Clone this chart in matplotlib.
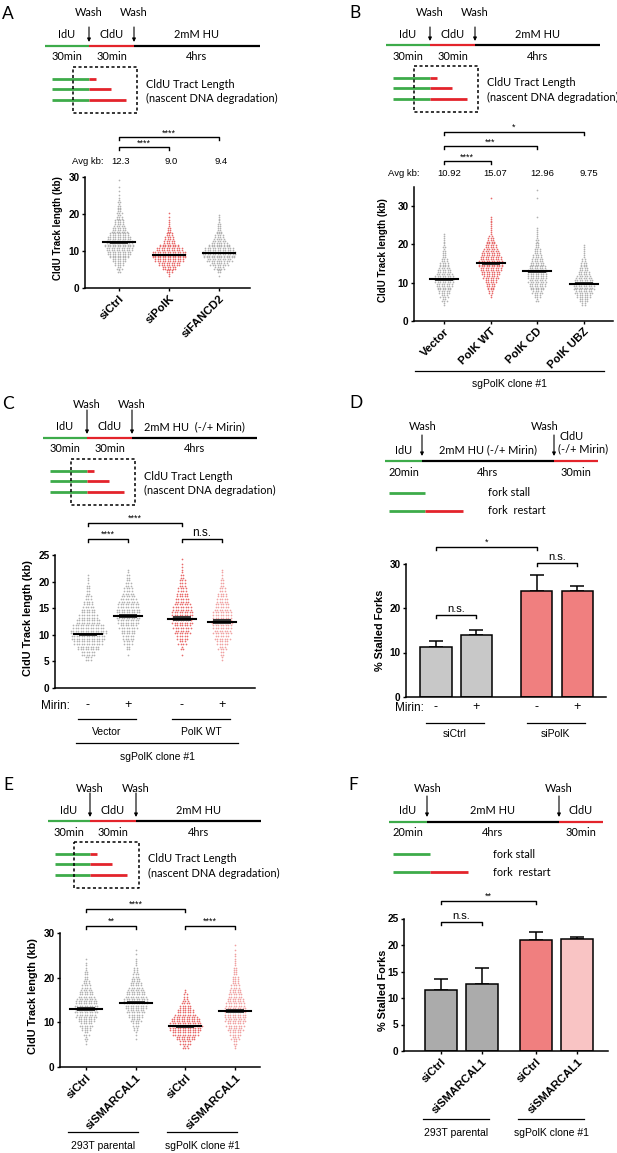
import matplotlib

matplotlib.use("Agg")
import matplotlib.pyplot as plt
from matplotlib.patches import Rectangle

W, H = 617, 1153
plt.rcParams["font.family"] = ["Liberation Sans", "DejaVu Sans"]

GREEN = "#3dab4a"
RED = "#e3242b"
GRAY_DOT = "#b2b2b2"
RED_DOT = "#e86a6a"
PINK_DOT = "#f0a2a2"

# ---------------- data ----------------
# A: CldU track length, dot histograms (counts per 1-kb bin from bin start)
A_labels = ["siCtrl", "siPolK", "siFANCD2"]
A_avg = [12.3, 9.0, 9.4]
A_sem = [0.45, 0.3, 0.3]
A_start = [4, 3, 3]
A_siCtrl = [3, 5, 8, 12, 16, 20, 22, 24, 22, 20, 16, 13, 11, 8, 7, 5, 5, 4, 3, 3, 1, 1, 1, 1, 0, 1]
A_siPolK = [2, 6, 12, 18, 24, 28, 28, 22, 16, 10, 8, 6, 4, 3, 2, 1, 1, 1]
A_siFANCD2 = [1, 4, 9, 15, 21, 26, 28, 24, 18, 13, 9, 7, 5, 4, 3, 2, 2]

B_labels = ["Vector", "PolK WT", "PolK CD", "PolK UBZ"]
B_avg = [10.92, 15.07, 12.96, 9.75]
B_sem = [0.4, 0.45, 0.45, 0.35]
B_start = [4, 6, 5, 4]
B_vector = [2, 5, 7, 10, 12, 14, 16, 16, 13, 11, 8, 7, 5, 4, 3, 3, 2, 2, 2]
B_wt = [2, 4, 6, 8, 10, 13, 16, 18, 20, 20, 18, 16, 13, 10, 8, 6, 3, 2, 2, 2, 2, 1, 0, 0, 0, 0, 1]
B_cd = [3, 6, 9, 12, 14, 15, 16, 16, 15, 13, 11, 9, 7, 6, 4, 3, 3, 2, 2, 1, 0, 0, 1, 0, 0, 0, 0, 1, 0, 1]
B_ubz = [4, 8, 12, 15, 17, 18, 16, 13, 10, 8, 6, 5, 3, 2, 2, 2]

C_mirin = ["-", "+", "-", "+"]
C_groups = ["Vector", "PolK WT"]
C_mean = [10.1, 13.6, 13.0, 12.5]
C_sem = [0.3, 0.4, 0.45, 0.4]
C_start = [5, 6, 6, 5]
C_vec_minus = [6, 12, 18, 24, 28, 30, 26, 20, 16, 12, 9, 7, 5, 4, 3, 2, 1]
C_vec_plus = [1, 4, 8, 10, 12, 15, 18, 20, 20, 18, 15, 11, 8, 6, 4, 3, 1]
C_wt_minus = [1, 3, 7, 10, 13, 15, 17, 18, 17, 15, 12, 10, 8, 6, 5, 3, 2, 1, 1]
C_wt_plus = [2, 4, 7, 10, 13, 15, 16, 17, 16, 15, 12, 10, 8, 6, 4, 3, 2, 1]

D_mirin = ["-", "+", "-", "+"]
D_groups = ["siCtrl", "siPolK"]
D_vals = [11.2, 13.9, 23.8, 23.9]
D_err = [1.4, 1.2, 3.6, 1.0]

E_labels = ["siCtrl", "siSMARCAL1", "siCtrl", "siSMARCAL1"]
E_groups = ["293T parental", "sgPolK clone #1"]
E_mean = [13.0, 14.4, 9.1, 12.5]
E_sem = [0.4, 0.4, 0.3, 0.45]
E_start = [5, 6, 4, 4]
E_ctrl_par = [2, 3, 5, 8, 11, 14, 17, 19, 20, 18, 15, 12, 9, 7, 5, 4, 3, 2, 1, 1]
E_smar_par = [1, 2, 4, 6, 9, 12, 15, 18, 20, 19, 16, 13, 10, 8, 6, 4, 3, 2, 1, 1, 1]
E_ctrl_sg = [5, 10, 16, 22, 26, 27, 24, 19, 14, 10, 7, 4, 3, 1]
E_smar_sg = [2, 4, 7, 10, 13, 15, 17, 18, 18, 17, 15, 13, 11, 9, 7, 6, 5, 4, 3, 2, 2, 1, 1, 1]

F_labels = ["siCtrl", "siSMARCAL1", "siCtrl", "siSMARCAL1"]
F_groups = ["293T parental", "sgPolK clone #1"]
F_vals = [11.5, 12.7, 20.9, 21.1]
F_err = [2.1, 3.0, 1.6, 0.4]

# ---------------- helpers ----------------
fig = plt.figure(figsize=(W / 100, H / 100), dpi=100)
fig.patch.set_facecolor("white")
ov = fig.add_axes([0, 0, 1, 1], zorder=5)
ov.set_xlim(0, W)
ov.set_ylim(H, 0)
ov.axis("off")

SCH = ["Lato", "Liberation Sans", "DejaVu Sans"]
SCH_FS = 7.9


def t(x, y, s, size=7.5, ha="center", va="center", family=None, **kw):
    ov.text(x, y, s, fontsize=size, ha=ha, va=va, family=family or plt.rcParams["font.family"], **kw)


def st(x, y, s, ha="center"):
    # schematic text
    t(x, y, s, size=SCH_FS, ha=ha, family=SCH)


def seg(x1, x2, y, color, lw):
    ov.plot([x1, x2], [y, y], color=color, lw=lw, solid_capstyle="butt")


def arrow(x, y1, y2):
    ov.annotate("", xy=(x, y2), xytext=(x, y1),
                arrowprops=dict(arrowstyle="-|>", lw=0.8, color="k", mutation_scale=5,
                                shrinkA=0, shrinkB=0))


def xpx(ax, x):
    return ax.transData.transform((x, 0))[0]


def make_ax(left, right, top, bottom, xlim, ylim):
    ax = fig.add_axes([left / W, 1 - bottom / H, (right - left) / W, (bottom - top) / H])
    ax.set_xlim(*xlim)
    ax.set_ylim(*ylim)
    ax.patch.set_alpha(0)
    for s in ("top", "right"):
        ax.spines[s].set_visible(False)
    for s in ("left", "bottom"):
        ax.spines[s].set_linewidth(1.1)
    ax.tick_params(length=2.5, width=1.0, pad=1.5)
    return ax


def yticks(ax, ticks):
    ax.set_yticks(ticks, labels=[str(v) for v in ticks], fontsize=7.2, fontweight="bold")


def xlabels(ax, pos, labels):
    ax.set_xticks(pos, labels=labels, rotation=45, ha="right", va="top",
                  rotation_mode="anchor", fontsize=8.2, fontweight="bold")


def swarm(ax, xc, start, counts, color, mean, sem, half_px=15, dot_px=2.5, rows=2):
    ux = xpx(ax, 1) - xpx(ax, 0)
    xs, ys = [], []
    for i, n in enumerate(counts):
        for r in range(rows):
            nr = n // rows + (1 if r < n % rows else 0)
            y = start + i + (r + 0.5) / rows
            for j in range(nr):
                xs.append(xc + (j - (nr - 1) / 2) * dot_px / ux)
                ys.append(y)
    ax.scatter(xs, ys, s=1.5, c=color, linewidths=0, zorder=2, clip_on=False)
    ax.add_patch(Rectangle((xc - 9 / ux, mean - sem), 18 / ux, 2 * sem,
                           fc="#3a3a3a", ec="none", zorder=3))
    ax.plot([xc - half_px / ux, xc + half_px / ux], [mean, mean], color="k", lw=1.5, zorder=4)


def bracket(ax, a, b, y, label, size=7, dy=5):
    x1, x2 = xpx(ax, a), xpx(ax, b)
    ov.plot([x1, x1, x2, x2], [y + 3, y, y, y + 3], color="k", lw=1.0)
    t((x1 + x2) / 2, y - dy, label, size=size)


def tract_schematic(xg, xw1, xw2, xend, ybar, arr_top, hu_label):
    st(xw1, ybar - 33, "Wash")
    st(xw2, ybar - 33, "Wash")
    arrow(xw1, ybar + arr_top, ybar - 4)
    arrow(xw2, ybar + arr_top, ybar - 4)
    st((xg + xw1) / 2, ybar - 11, "IdU")
    st((xw1 + xw2) / 2, ybar - 11, "CldU")
    st((xw2 + xend) / 2, ybar - 11, hu_label)
    seg(xg, xw1, ybar, GREEN, 1.6)
    seg(xw1, xw2, ybar, RED, 1.6)
    seg(xw2, xend, ybar, "k", 1.6)
    st((xg + xw1) / 2, ybar + 11, "30min")
    st((xw1 + xw2) / 2, ybar + 11, "30min")
    st((xw2 + xend) / 2, ybar + 11, "4hrs")
    for dy, red_len in zip((33, 43, 54), (7, 22, 37)):
        seg(xg + 7, xw1, ybar + dy, GREEN, 2.0)
        seg(xw1, xw1 + red_len, ybar + dy, RED, 2.0)
    bx1, bx2, by1, by2 = xw1 - 16, xw2 + 3, ybar + 21, ybar + 67
    ov.plot([bx1, bx2, bx2, bx1, bx1], [by1, by1, by2, by2, by1], color="k", lw=1.1,
            linestyle=(0, (2, 1.6)))
    st(xw2 + 12, ybar + 38, "CldU Tract Length", ha="left")
    st(xw2 + 12, ybar + 52, "(nascent DNA degradation)", ha="left")


def restart_schematic(xg, xw1, xw2, xend, ybar, wash2_x, hu_label, cldu_mirin):
    st(xw1 + 1, ybar - 34, "Wash")
    st(wash2_x, ybar - 34, "Wash")
    arrow(xw1, ybar - 26, ybar - 5)
    arrow(xw2, ybar - 26, ybar - 5)
    st((xg + xw1) / 2, ybar - 11, "IdU")
    st((xw1 + xw2) / 2, ybar - 11, hu_label)
    if cldu_mirin:
        st((xw2 + xend) / 2 - 4, ybar - 25, "CldU")
        st((xw2 + xend) / 2 + 7, ybar - 12, "(-/+ Mirin)")
    else:
        st((xw2 + xend) / 2, ybar - 11, "CldU")
    seg(xg, xw1, ybar, GREEN, 1.6)
    seg(xw1, xw2, ybar, "k", 1.6)
    seg(xw2, xend, ybar, RED, 1.6)
    st((xg + xw1) / 2, ybar + 11, "20min")
    st((xw1 + xw2) / 2, ybar + 11, "4hrs")
    st((xw2 + xend) / 2, ybar + 11, "30min")
    seg(xg + 4, xw1 + 3, ybar + 32, GREEN, 2.0)
    seg(xg + 4, xw1 + 3, ybar + 50, GREEN, 2.0)
    seg(xw1 + 3, xw1 + 41, ybar + 50, RED, 2.0)
    st(xw1 + 66, ybar + 32, "fork stall", ha="left")
    st(xw1 + 66, ybar + 50, "fork  restart", ha="left")


# ---------------- panel A ----------------
t(8, 14, "A", size=12.5, family=SCH)
tract_schematic(45, 89, 134, 260, 46, -19, "2mM HU")
axA = make_ax(85, 250, 177, 288, ((85 - 119) / 50, (250 - 119) / 50), (0, 30))
yticks(axA, [0, 10, 20, 30])
xlabels(axA, range(3), A_labels)
for i, (cnt, col) in enumerate(zip([A_siCtrl, A_siPolK, A_siFANCD2], [GRAY_DOT, RED_DOT, GRAY_DOT])):
    swarm(axA, i, A_start[i], cnt, col, A_avg[i], A_sem[i], half_px=16)
t(58, 228, "CldU Track length (kb)", size=7, rotation=90, fontweight="bold")
t(88, 162, "Avg kb:", size=6.8)
for i, v in enumerate(A_avg):
    t(xpx(axA, i) + 2, 162, f"{v:.1f}", size=6.8)
bracket(axA, 0, 2, 137, "****", size=6.5, dy=4)
bracket(axA, 0, 1, 147, "****", size=6.5, dy=4)

# ---------------- panel B ----------------
t(355, 13, "B", size=12.5, family=SCH)
tract_schematic(386, 430, 475, 600, 45, -18, "2mM HU")
axB = make_ax(414, 613, 187, 321, ((414 - 444) / 46.5, (613 - 444) / 46.5), (0, 35))
yticks(axB, [0, 10, 20, 30])
xlabels(axB, range(4), B_labels)
for i, (cnt, col) in enumerate(zip([B_vector, B_wt, B_cd, B_ubz],
                                   [GRAY_DOT, RED_DOT, GRAY_DOT, GRAY_DOT])):
    swarm(axB, i, B_start[i], cnt, col, B_avg[i], B_sem[i], half_px=14)
t(383, 250, "CldU Track length (kb)", size=7, rotation=90, fontweight="bold")
t(404, 173, "Avg kb:", size=6.8)
for i, v in enumerate(B_avg):
    t(xpx(axB, i) + 5, 173, f"{v:.2f}", size=6.8)
bracket(axB, 0, 3, 132, "*", size=6.5, dy=5)
bracket(axB, 0, 2, 146, "***", size=6.5, dy=4)
bracket(axB, 0, 1, 161, "****", size=6.5, dy=4)
ov.plot([415, 604], [371, 371], color="k", lw=0.9)
t(509, 384, "sgPolK clone #1", size=7.5)

# ---------------- panel C ----------------
C_pos = [0, 1, 2.35, 3.35]
t(8, 404, "C", size=12.5, family=SCH)
tract_schematic(43, 87, 132, 257, 438, -28, "2mM HU  (-/+ Mirin)")
axC = make_ax(55, 255, 555, 688, ((55 - 88) / 40, (255 - 88) / 40), (0, 25))
yticks(axC, [0, 5, 10, 15, 20, 25])
axC.set_xticks([])
for i, (cnt, col) in enumerate(zip([C_vec_minus, C_vec_plus, C_wt_minus, C_wt_plus],
                                   [GRAY_DOT, GRAY_DOT, RED_DOT, PINK_DOT])):
    swarm(axC, C_pos[i], C_start[i], cnt, col, C_mean[i], C_sem[i], half_px=14)
t(28, 618, "CldU Track length (kb)", size=7.8, rotation=90, fontweight="bold")
bracket(axC, C_pos[0], C_pos[2], 523, "****", size=6.5, dy=5)
bracket(axC, C_pos[0], C_pos[1], 539, "****", size=6.5, dy=5)
bracket(axC, C_pos[2], C_pos[3], 539, "n.s.", size=8.5, dy=6)
t(70, 706, "Mirin:", size=8.5, ha="right")
for p, s in zip(C_pos, C_mirin):
    t(xpx(axC, p), 705, s, size=9)
for k, g in enumerate(C_groups):
    xa, xb = xpx(axC, C_pos[2 * k]) - 10, xpx(axC, C_pos[2 * k + 1]) + 8
    ov.plot([xa, xb], [719, 719], color="k", lw=0.9)
    t((xa + xb) / 2, 732, g, size=7.5)
ov.plot([76, 238], [743, 743], color="k", lw=0.9)
t(157, 757, "sgPolK clone #1", size=7.5)

# ---------------- panel D ----------------
D_pos = [0, 1, 2.5, 3.5]
D_col = ["#c8c8c8", "#c8c8c8", "#f07f7f", "#f07f7f"]
t(356, 403, "D", size=12.5, family=SCH)
restart_schematic(385, 422, 554, 598, 461, 545, "2mM HU (-/+ Mirin)", True)
axD = make_ax(406, 606, 563.5, 697, ((406 - 436) / 40.3, (606 - 436) / 40.3), (0, 30))
yticks(axD, [0, 10, 20, 30])
axD.set_xticks([])
axD.bar(D_pos, D_vals, width=0.77, color=D_col, edgecolor="k", linewidth=1.1, zorder=2)
axD.errorbar(D_pos, D_vals, yerr=[[0] * 4, D_err], fmt="none", ecolor="k",
             elinewidth=1.1, capsize=5, capthick=1.1, zorder=1)
t(380, 630, "% Stalled Forks", size=7.8, rotation=90, fontweight="bold")
bracket(axD, D_pos[0], D_pos[2], 547, "*", size=6.5, dy=5)
bracket(axD, D_pos[2], D_pos[3], 563, "n.s.", size=8, dy=6)
bracket(axD, D_pos[0], D_pos[1], 615, "n.s.", size=8, dy=6)
t(424, 708, "Mirin:", size=8.5, ha="right")
for p, s in zip(D_pos, D_mirin):
    t(xpx(axD, p), 707, s, size=9)
for k, g in enumerate(D_groups):
    xa, xb = xpx(axD, D_pos[2 * k]) - 10, xpx(axD, D_pos[2 * k + 1]) + 8
    ov.plot([xa, xb], [723, 723], color="k", lw=0.9)
    t((xa + xb) / 2, 734, g, size=7.5)

# ---------------- panel E ----------------
t(8, 785, "E", size=12.5, family=SCH)
tract_schematic(48, 90, 136, 261, 821, -28, "2mM HU")
axE = make_ax(60, 260, 933, 1067, ((60 - 86) / 49.7, (260 - 86) / 49.7), (0, 30))
yticks(axE, [0, 10, 20, 30])
xlabels(axE, range(4), E_labels)
for i, (cnt, col) in enumerate(zip([E_ctrl_par, E_smar_par, E_ctrl_sg, E_smar_sg],
                                   [GRAY_DOT, GRAY_DOT, RED_DOT, PINK_DOT])):
    swarm(axE, i, E_start[i], cnt, col, E_mean[i], E_sem[i], half_px=16)
t(33, 996, "CldU Track length (kb)", size=7.8, rotation=90, fontweight="bold")
bracket(axE, 0, 2, 909, "****", size=6.5, dy=5)
bracket(axE, 0, 1, 926, "**", size=6.5, dy=5)
bracket(axE, 2, 3, 926, "****", size=6.5, dy=5)
for k, g in enumerate(E_groups):
    xa, xb = xpx(axE, 2 * k) - 18, xpx(axE, 2 * k + 1) + 2
    ov.plot([xa, xb], [1132, 1132], color="k", lw=0.9)
    t((xa + xb) / 2, 1146, g, size=7.5)

# ---------------- panel F ----------------
F_pos = [0, 1, 2.32, 3.32]
F_col = ["#ababab", "#ababab", "#f07f7f", "#f9c4c4"]
t(353, 785, "F", size=12.5, family=SCH)
restart_schematic(389, 427, 559, 603, 822, 559, "2mM HU", False)
axF = make_ax(404, 608, 918.5, 1051, ((404 - 441) / 41, (608 - 441) / 41), (0, 25))
yticks(axF, [0, 5, 10, 15, 20, 25])
xlabels(axF, F_pos, F_labels)
axF.bar(F_pos, F_vals, width=0.77, color=F_col, edgecolor="k", linewidth=1.1, zorder=2)
axF.errorbar(F_pos, F_vals, yerr=[[0] * 4, F_err], fmt="none", ecolor="k",
             elinewidth=1.1, capsize=5, capthick=1.1, zorder=1)
t(383, 990, "% Stalled Forks", size=7.8, rotation=90, fontweight="bold")
bracket(axF, F_pos[0], F_pos[2], 901, "**", size=6.5, dy=5)
bracket(axF, F_pos[0], F_pos[1], 922, "n.s.", size=8, dy=6)
for k, g in enumerate(F_groups):
    xa, xb = xpx(axF, F_pos[2 * k]) - 18, xpx(axF, F_pos[2 * k + 1]) + 7
    ov.plot([xa, xb], [1119, 1119], color="k", lw=0.9)
    t((xa + xb) / 2, 1133, g, size=7.5)

fig.savefig("out.png", dpi=100)
